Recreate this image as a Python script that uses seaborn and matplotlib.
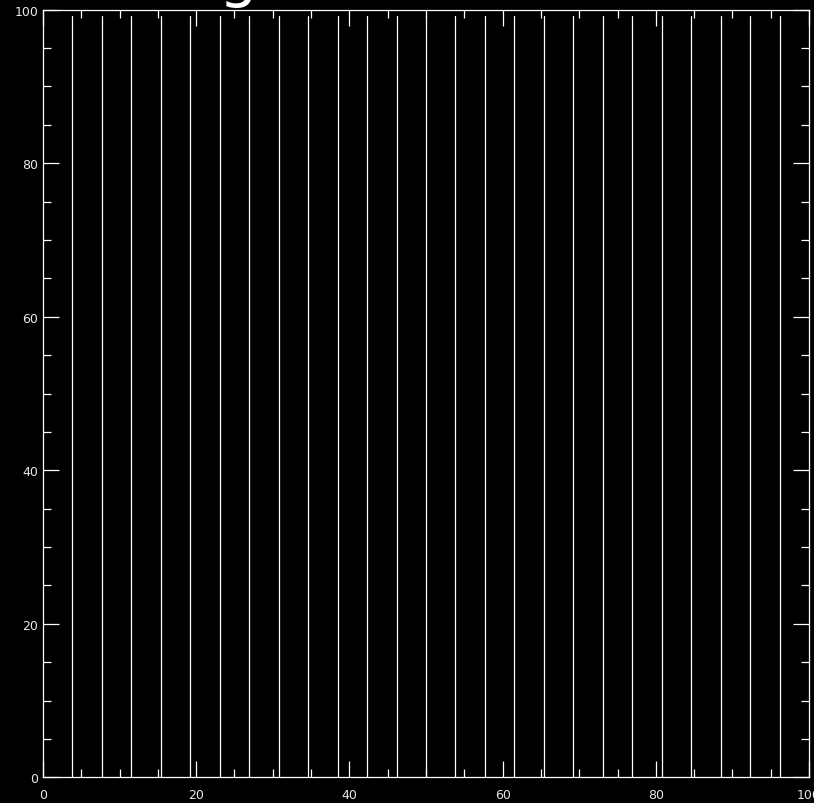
import matplotlib
matplotlib.use("Agg")
import matplotlib.pyplot as plt
import seaborn as sns
import pandas as pd
from matplotlib.ticker import MultipleLocator

# Data
line_x = [3.8, 7.7, 11.5, 15.4, 19.2, 23.1, 26.9, 30.8, 34.6, 38.5, 42.3, 46.2,
          50.0, 53.8, 57.7, 61.5, 65.4, 69.2, 73.1, 76.9, 80.8, 84.6, 88.5,
          92.3, 96.2]
line_bottom = [0.0] * len(line_x)
line_top = [99.2] * len(line_x)
x_ticks = [0, 20, 40, 60, 80, 100]
y_ticks = [0, 20, 40, 60, 80, 100]
title_text = "g"

sns.set_theme(style="white")
plt.rcParams["font.family"] = ["DejaVu Sans"]

rows = []
for i, (x, y0, y1) in enumerate(zip(line_x, line_bottom, line_top)):
    rows.append({"x": x, "y": y0, "line": i})
    rows.append({"x": x, "y": y1, "line": i})
df = pd.DataFrame(rows)

W, H = 814, 804
fig = plt.figure(figsize=(W / 100, H / 100), dpi=100, facecolor="black")
ax = fig.add_axes([43 / W, 1 - 778.3 / H, (809 - 43) / W, (778.3 - 10.7) / H])
ax.set_facecolor("black")

sns.lineplot(data=df, x="x", y="y", units="line", estimator=None,
             color="white", linewidth=0.9, ax=ax, legend=False, sort=False)

ax.set_xlim(0, 100)
ax.set_ylim(0, 100)
ax.set_xlabel("")
ax.set_ylabel("")
ax.set_xticks(x_ticks)
ax.set_yticks(y_ticks)
ax.set_xticklabels([str(t) for t in x_ticks])
ax.set_yticklabels([str(t) for t in y_ticks])
ax.xaxis.set_minor_locator(MultipleLocator(5))
ax.yaxis.set_minor_locator(MultipleLocator(5))

for s in ax.spines.values():
    s.set_color("white")
    s.set_linewidth(0.9)

ax.tick_params(which="both", direction="in", top=True, right=True,
               bottom=True, left=True, color="white", width=0.9)
ax.tick_params(which="major", length=11.5)
ax.tick_params(which="minor", length=5.8)
ax.tick_params(axis="x", which="major", pad=8, labelsize=9, labelcolor="#e8e8e8")
ax.tick_params(axis="y", which="major", pad=3.5, labelsize=9, labelcolor="#e8e8e8")

fig.text(238 / W, 1 + 5.5 / H, title_text, color="white", fontsize=44,
         ha="center", va="baseline")

fig.savefig("out.png", dpi=100, facecolor="black")
